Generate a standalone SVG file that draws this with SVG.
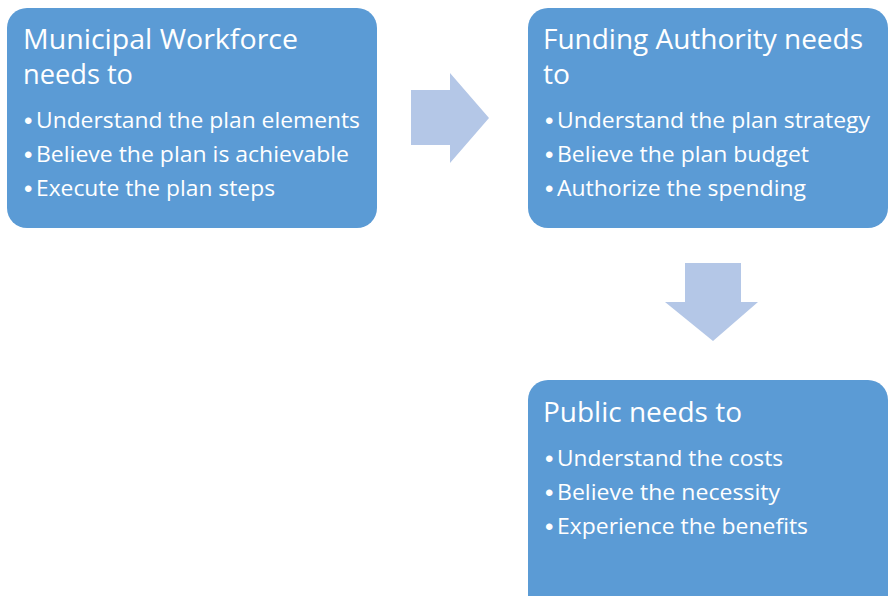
<svg xmlns="http://www.w3.org/2000/svg" width="888" height="596" viewBox="0 0 888 596">
  <style>
    .box { fill: #5B9BD5; }
    .arrow { fill: #B4C7E7; }
    text { fill: #FFFFFF; font-family: "Open Sans", "Noto Sans", "Liberation Sans", sans-serif; }
    .title { font-size: 27px; }
    .item { font-size: 21px; }
    .dot { font-family: "Liberation Sans", "Arial", sans-serif; font-size: 24px; }
  </style>
  <rect width="888" height="596" fill="#FFFFFF"/>

  <g id="connectors">
    <!-- right-pointing block arrow -->
    <polygon class="arrow" points="411,90 450,90 450,73 489,118 450,163 450,145 411,145"/>
    <!-- down-pointing block arrow -->
    <polygon class="arrow" points="685,263 741,263 741,302 758,302 713,341 665,302 685,302"/>
  </g>

  <g id="workforce">
    <rect class="box" x="7" y="8" width="370" height="220" rx="20" ry="20"/>
    <text class="title" x="23" y="49" textLength="275" lengthAdjust="spacingAndGlyphs">Municipal Workforce</text>
    <text class="title" x="23" y="84" textLength="110" lengthAdjust="spacingAndGlyphs">needs to</text>
    <text class="dot" x="24" y="129">•</text>
    <text class="item" x="36" y="128" textLength="324" lengthAdjust="spacingAndGlyphs">Understand the plan elements</text>
    <text class="dot" x="24" y="163">•</text>
    <text class="item" x="36" y="162" textLength="313" lengthAdjust="spacingAndGlyphs">Believe the plan is achievable</text>
    <text class="dot" x="24" y="197">•</text>
    <text class="item" x="36" y="196" textLength="239" lengthAdjust="spacingAndGlyphs">Execute the plan steps</text>
  </g>

  <g id="funding">
    <rect class="box" x="528" y="8" width="360" height="220" rx="20" ry="20"/>
    <text class="title" x="543" y="49" textLength="320" lengthAdjust="spacingAndGlyphs">Funding Authority needs</text>
    <text class="title" x="543" y="84" textLength="27" lengthAdjust="spacingAndGlyphs">to</text>
    <text class="dot" x="545" y="129">•</text>
    <text class="item" x="557" y="128" textLength="313" lengthAdjust="spacingAndGlyphs">Understand the plan strategy</text>
    <text class="dot" x="545" y="163">•</text>
    <text class="item" x="557" y="162" textLength="252" lengthAdjust="spacingAndGlyphs">Believe the plan budget</text>
    <text class="dot" x="545" y="197">•</text>
    <text class="item" x="557" y="196" textLength="249" lengthAdjust="spacingAndGlyphs">Authorize the spending</text>
  </g>

  <g id="public">
    <rect class="box" x="528" y="380" width="360" height="240" rx="20" ry="20"/>
    <text class="title" x="543" y="422" textLength="199" lengthAdjust="spacingAndGlyphs">Public needs to</text>
    <text class="dot" x="545" y="467">•</text>
    <text class="item" x="557" y="466" textLength="226" lengthAdjust="spacingAndGlyphs">Understand the costs</text>
    <text class="dot" x="545" y="501">•</text>
    <text class="item" x="557" y="500" textLength="223" lengthAdjust="spacingAndGlyphs">Believe the necessity</text>
    <text class="dot" x="545" y="535">•</text>
    <text class="item" x="557" y="534" textLength="251" lengthAdjust="spacingAndGlyphs">Experience the benefits</text>
  </g>
</svg>
